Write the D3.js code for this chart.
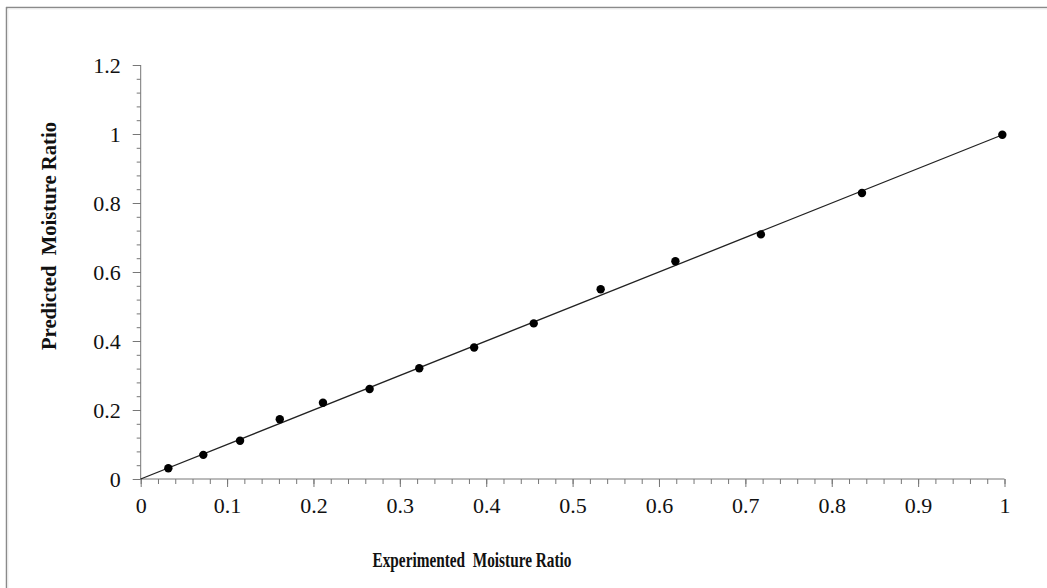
<!DOCTYPE html>
<html>
<head>
<meta charset="utf-8">
<script src="https://cdn.jsdelivr.net/npm/d3@7"></script>
<style>
  html, body { margin: 0; padding: 0; background: #fff; }
  svg { display: block; }
  text { font-family: "Liberation Serif", "Times New Roman", serif; fill: #111; }
</style>
</head>
<body>
<svg id="chart" width="1047" height="588"></svg>
<script>
// Data
const experimented = [0.032, 0.0725, 0.115, 0.161, 0.211, 0.265, 0.3225, 0.386, 0.455, 0.5325, 0.619, 0.718, 0.835, 0.9975];
const predicted    = [0.031, 0.070, 0.111, 0.173, 0.221, 0.261, 0.321, 0.381, 0.451, 0.550, 0.631, 0.709, 0.829, 0.998];
const fitLine = [[0, 0], [1, 1]];
const xTicks = [0, 0.1, 0.2, 0.3, 0.4, 0.5, 0.6, 0.7, 0.8, 0.9, 1];
const yTicks = [0, 0.2, 0.4, 0.6, 0.8, 1, 1.2];
const xTitle = "Experimented  Moisture Ratio";
const yTitle = "Predicted  Moisture Ratio";

const svg = d3.select("#chart");

// outer frame
svg.append("line").attr("x1", 6.5).attr("x2", 6.5).attr("y1", 7).attr("y2", 588)
  .attr("stroke", "#8a8a8a").attr("stroke-width", 1.5);
svg.append("line").attr("x1", 6).attr("x2", 1047).attr("y1", 7.5).attr("y2", 7.5)
  .attr("stroke", "#8a8a8a").attr("stroke-width", 1.5);
svg.append("line").attr("x1", 8).attr("x2", 8).attr("y1", 9).attr("y2", 588)
  .attr("stroke", "#eee").attr("stroke-width", 1);
svg.append("line").attr("x1", 8).attr("x2", 1047).attr("y1", 9).attr("y2", 9)
  .attr("stroke", "#eee").attr("stroke-width", 1);

const x = d3.scaleLinear().domain([0, 1]).range([140.7, 1004.5]);
const y = d3.scaleLinear().domain([0, 1.2]).range([479, 65]);

const axisColor = "#777";
const fmt = d => String(+d.toFixed(1));

// X axis: minor ticks every 0.02
const xMinor = d3.range(0, 1.0001, 0.02).map(v => +v.toFixed(2));
const gx = svg.append("g").attr("transform", `translate(0,${y(0)})`);
gx.call(d3.axisBottom(x).tickValues(xMinor).tickSize(5).tickFormat(""))
  .call(g => g.select(".domain").remove());
gx.selectAll("line").attr("stroke", axisColor);
const gxMaj = svg.append("g").attr("transform", `translate(0,${y(0)})`);
gxMaj.call(d3.axisBottom(x).tickValues(xTicks).tickSize(8).tickPadding(10).tickFormat(fmt));
gxMaj.select(".domain").attr("stroke", axisColor).attr("d", `M${x(0)},0H${x(1)}`);
gxMaj.selectAll("line").attr("stroke", axisColor);
gxMaj.selectAll("text").attr("font-size", 22).attr("font-family", "Liberation Serif, serif").attr("fill", "#111");

// Y axis: minor ticks every 0.04
const yMinor = d3.range(0, 1.2001, 0.04).map(v => +v.toFixed(2));
const gy = svg.append("g").attr("transform", `translate(${x(0)},0)`);
gy.call(d3.axisLeft(y).tickValues(yMinor).tickSize(4).tickFormat(""))
  .call(g => g.select(".domain").remove());
gy.selectAll("line").attr("stroke", axisColor);
const gyMaj = svg.append("g").attr("transform", `translate(${x(0)},0)`);
gyMaj.call(d3.axisLeft(y).tickValues(yTicks).tickSize(8).tickPadding(12).tickFormat(fmt));
gyMaj.select(".domain").attr("stroke", axisColor).attr("d", `M0,${y(0)}V${y(1.2)}`);
gyMaj.selectAll("line").attr("stroke", axisColor);
gyMaj.selectAll("text").attr("font-size", 22).attr("font-family", "Liberation Serif, serif").attr("fill", "#111");

// fit line
svg.append("path")
  .datum(fitLine)
  .attr("d", d3.line().x(d => x(d[0])).y(d => y(d[1])))
  .attr("fill", "none").attr("stroke", "#222").attr("stroke-width", 1.3);

// points
svg.append("g").selectAll("circle")
  .data(experimented.map((v, i) => [v, predicted[i]]))
  .join("circle")
  .attr("cx", d => x(d[0])).attr("cy", d => y(d[1]))
  .attr("r", 4.2).attr("fill", "#000");

// axis titles
svg.append("text")
  .attr("x", 472).attr("y", 567)
  .attr("text-anchor", "middle")
  .attr("font-size", 21).attr("font-weight", "bold")
  .attr("textLength", 199).attr("lengthAdjust", "spacingAndGlyphs")
  .style("white-space", "pre")
  .text(xTitle);

svg.append("text")
  .attr("transform", "translate(56,236) rotate(-90)")
  .attr("text-anchor", "middle")
  .attr("font-size", 21).attr("font-weight", "bold")
  .attr("textLength", 228).attr("lengthAdjust", "spacingAndGlyphs")
  .style("white-space", "pre")
  .text(yTitle);
</script>
</body>
</html>
